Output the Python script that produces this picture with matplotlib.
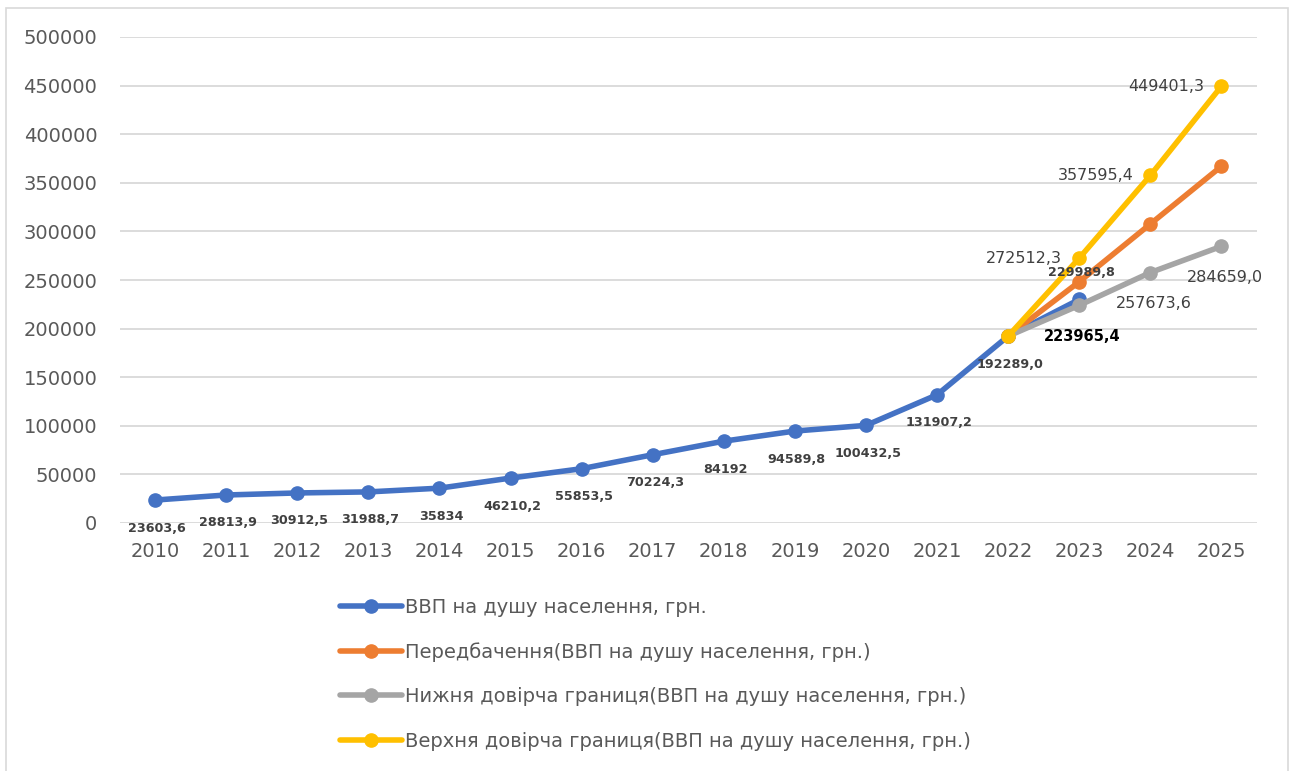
import matplotlib.pyplot as plt
from matplotlib.patches import Rectangle

# Дані
years = [str(y) for y in range(2010, 2026)]
gdp = [23603.6, 28813.9, 30912.5, 31988.7, 35834, 46210.2, 55853.5, 70224.3,
       84192, 94589.8, 100432.5, 131907.2, 192289.0, 229989.8]
gdp_labels = ['23603,6', '28813,9', '30912,5', '31988,7', '35834', '46210,2',
              '55853,5', '70224,3', '84192', '94589,8', '100432,5', '131907,2',
              '192289,0', '229989,8']
fc_years = ['2022', '2023', '2024', '2025']
forecast = [192289.0, 248238.9, 307634.5, 367030.2]
lower = [192289.0, 223965.4, 257673.6, 284659.0]
upper = [192289.0, 272512.3, 357595.4, 449401.3]
lower_labels = ['223965,4', '257673,6', '284659,0']
upper_labels = ['272512,3', '357595,4', '449401,3']

names = ['ВВП на душу населення, грн.',
         'Передбачення(ВВП на душу населення, грн.)',
         'Нижня довірча границя(ВВП на душу населення, грн.)',
         'Верхня довірча границя(ВВП на душу населення, грн.)']
colors = ['#4472C4', '#ED7D31', '#A5A5A5', '#FFC000']

fig = plt.figure(figsize=(12.94, 7.71), dpi=100)
ax = fig.add_axes([119.5 / 1294, 1 - 523 / 771, (1257 - 119.5) / 1294, 486 / 771])

idx = {y: i for i, y in enumerate(years)}
xg = list(range(len(gdp)))
xf = [idx[y] for y in fc_years]

kw = dict(lw=4, marker='o', ms=9.5, solid_capstyle='round')
ax.plot(xg, gdp, color=colors[0], label=names[0], **kw)
ax.plot(xf, forecast, color=colors[1], label=names[1], **kw)
ax.plot(xf, lower, color=colors[2], label=names[2], **kw)
ax.plot(xf, upper, color=colors[3], label=names[3], **kw)

# Підписи даних
for i, (v, t) in enumerate(zip(gdp, gdp_labels)):
    dy = 27 if i == len(gdp) - 1 else -28
    ax.annotate(t, (i, v), xytext=(2, dy), textcoords='offset pixels',
                ha='center', va='center', fontsize=9.2, fontweight='bold',
                color='#404040')
for k, (v, t) in enumerate(zip(lower[1:], lower_labels)):
    bold = k == 0
    ax.annotate(t, (xf[k + 1], v), xytext=(3, -31), textcoords='offset pixels',
                ha='center', va='center',
                fontsize=10.5 if bold else 11.5,
                fontweight='bold' if bold else 'normal',
                color='black' if bold else '#404040')
for k, (v, t) in enumerate(zip(upper[1:], upper_labels)):
    ax.annotate(t, (xf[k + 1], v), xytext=(-17, 0), textcoords='offset pixels',
                ha='right', va='center', fontsize=11.5, color='#404040')

ax.set_xlim(-0.5, len(years) - 0.5)
ax.set_ylim(0, 500000)
ax.set_xticks(range(len(years)))
ax.set_xticklabels(years)
ax.set_yticks(range(0, 500001, 50000))
ax.tick_params(length=0, labelsize=14, labelcolor='#595959')
ax.tick_params(axis='y', pad=16)
ax.tick_params(axis='x', pad=14)
ax.grid(axis='y', color='#d9d9d9', lw=1.3)
ax.set_axisbelow(True)
for s in ax.spines.values():
    s.set_visible(False)

fig.legend(loc='upper left', bbox_to_anchor=(340 / 1294, 1 - 598 / 771),
           frameon=False, fontsize=14, labelcolor='#595959',
           handlelength=3.2, handletextpad=0.15, labelspacing=1.3,
           borderpad=0, borderaxespad=0)

fig.patches.append(Rectangle((6 / 1294, -0.02), 1282 / 1294, 1 - 8 / 771 + 0.02,
                             transform=fig.transFigure, fill=False,
                             edgecolor='#d9d9d9', lw=1.2))

fig.savefig('out.png', dpi=100)
